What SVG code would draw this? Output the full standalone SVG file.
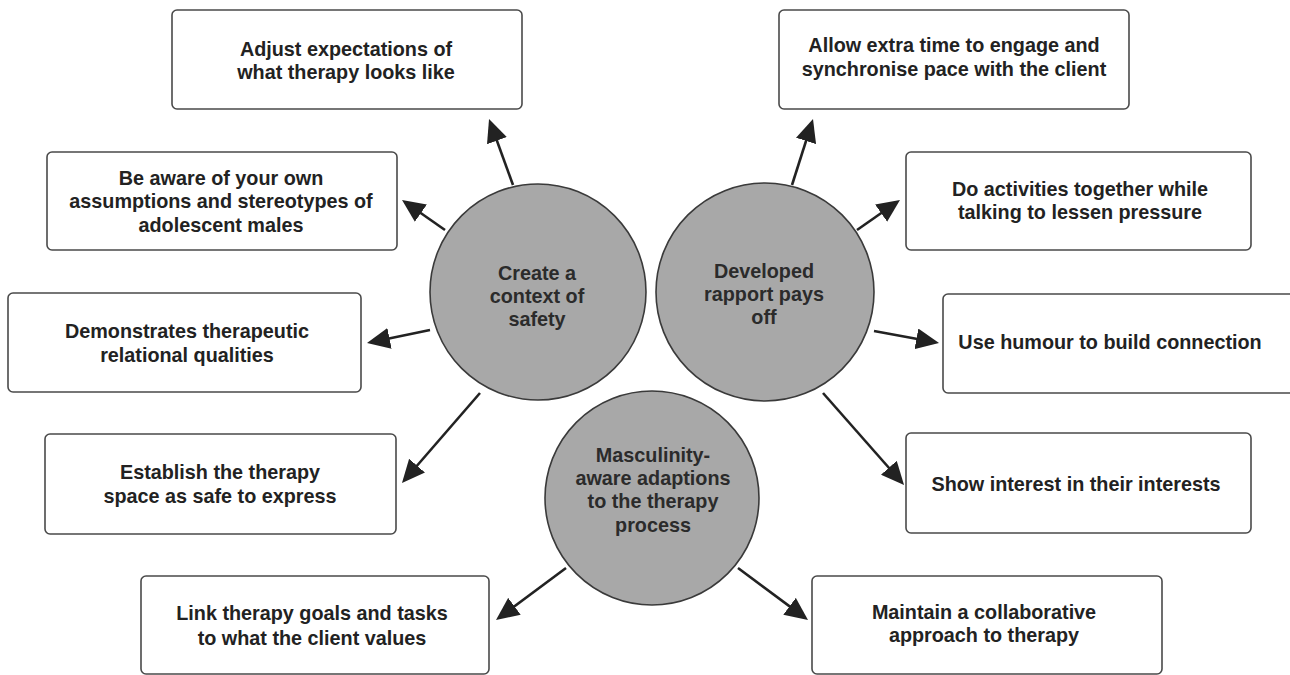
<svg xmlns="http://www.w3.org/2000/svg" width="1290" height="675" viewBox="0 0 1290 675">
<style>
.box{fill:#fff;stroke:#4a4a4a;stroke-width:1.6}
.hub{fill:#a8a8a8;stroke:#3a3a3a;stroke-width:1.6}
.t{font-family:"Liberation Sans",Arial,sans-serif;font-weight:bold;font-size:19.8px;fill:#222;text-anchor:middle}
.h{fill:#2b2b2b}
.c{stroke:#222;stroke-width:2.6;fill:none;marker-end:url(#ah)}
</style>
<defs>
<marker id="ah" viewBox="0 0 23 21" refX="19" refY="10.5" markerWidth="23" markerHeight="21" orient="auto" markerUnits="userSpaceOnUse">
<path d="M0,0 L23,10.5 L0,21 z" fill="#222"/>
</marker>
</defs>
<rect width="1290" height="675" fill="#fff"/>
<g id="connectors">
<line class="c" x1="513" y1="185" x2="490.4" y2="122.8"/>
<line class="c" x1="445" y1="230" x2="405.3" y2="202.3"/>
<line class="c" x1="430" y1="330" x2="370.9" y2="342.2"/>
<line class="c" x1="480" y1="393" x2="404.6" y2="480"/>
<line class="c" x1="792" y1="185" x2="811.8" y2="122.8"/>
<line class="c" x1="857" y1="230" x2="896.7" y2="202.3"/>
<line class="c" x1="874" y1="331" x2="935.1" y2="342.3"/>
<line class="c" x1="823" y1="393" x2="901.4" y2="482"/>
<line class="c" x1="566" y1="568" x2="499.2" y2="617.6"/>
<line class="c" x1="738" y1="568" x2="804.8" y2="617.6"/>
</g>
<g id="hub-safety">
<circle class="hub" cx="538" cy="292" r="108"/>
<text class="t h" x="537" y="280">Create a</text>
<text class="t h" x="537" y="303">context of</text>
<text class="t h" x="537" y="326">safety</text>
</g>
<g id="hub-rapport">
<circle class="hub" cx="765" cy="292" r="109"/>
<text class="t h" x="764" y="278">Developed</text>
<text class="t h" x="764" y="301">rapport pays</text>
<text class="t h" x="764" y="324">off</text>
</g>
<g id="hub-masculinity">
<circle class="hub" cx="652" cy="498" r="107"/>
<text class="t h" x="653" y="462">Masculinity-</text>
<text class="t h" x="653" y="485">aware adaptions</text>
<text class="t h" x="653" y="508">to the therapy</text>
<text class="t h" x="653" y="532">process</text>
</g>
<g id="box-adjust">
<rect class="box" x="172" y="10" width="350" height="99" rx="5"/>
<text class="t" x="346" y="56">Adjust expectations of</text>
<text class="t" x="346" y="79">what therapy looks like</text>
</g>
<g id="box-aware">
<rect class="box" x="47" y="152" width="350" height="98" rx="5"/>
<text class="t" x="221" y="185">Be aware of your own</text>
<text class="t" x="221" y="208">assumptions and stereotypes of</text>
<text class="t" x="221" y="232">adolescent males</text>
</g>
<g id="box-demonstrates">
<rect class="box" x="8" y="293" width="353" height="99" rx="5"/>
<text class="t" x="187" y="338">Demonstrates therapeutic</text>
<text class="t" x="187" y="362">relational qualities</text>
</g>
<g id="box-establish">
<rect class="box" x="45" y="434" width="351" height="100" rx="5"/>
<text class="t" x="220" y="479">Establish the therapy</text>
<text class="t" x="220" y="503">space as safe to express</text>
</g>
<g id="box-link">
<rect class="box" x="141" y="576" width="348" height="98" rx="5"/>
<text class="t" x="312" y="620">Link therapy goals and tasks</text>
<text class="t" x="312" y="645">to what the client values</text>
</g>
<g id="box-allow">
<rect class="box" x="779" y="10" width="350" height="99" rx="5"/>
<text class="t" x="954" y="52">Allow extra time to engage and</text>
<text class="t" x="954" y="76">synchronise pace with the client</text>
</g>
<g id="box-activities">
<rect class="box" x="906" y="152" width="345" height="98" rx="5"/>
<text class="t" x="1080" y="196">Do activities together while</text>
<text class="t" x="1080" y="219">talking to lessen pressure</text>
</g>
<g id="box-humour">
<rect class="box" x="943" y="294" width="352" height="99" rx="5"/>
<text class="t" x="1110" y="349">Use humour to build connection</text>
</g>
<g id="box-interest">
<rect class="box" x="906" y="433" width="345" height="100" rx="5"/>
<text class="t" x="1076" y="491">Show interest in their interests</text>
</g>
<g id="box-collaborative">
<rect class="box" x="812" y="576" width="350" height="98" rx="5"/>
<text class="t" x="984" y="619">Maintain a collaborative</text>
<text class="t" x="984" y="642">approach to therapy</text>
</g>
</svg>
